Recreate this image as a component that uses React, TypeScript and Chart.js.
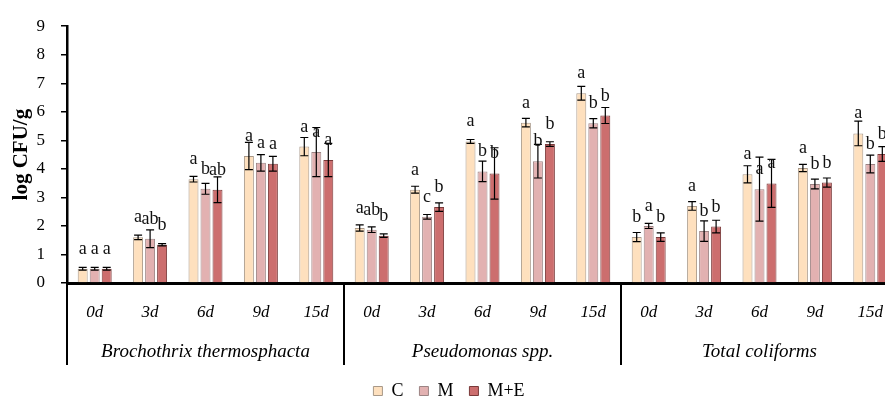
import React, { useEffect, useRef } from 'react';
import { Chart, registerables } from 'chart.js';

Chart.register(...registerables);

const days = ['0d', '3d', '6d', '9d', '15d'];
const groups = ['Brochothrix thermosphacta', 'Pseudomonas spp.', 'Total coliforms'];
const categories = [...days, ...days, ...days];

const seriesNames = ['C', 'M', 'M+E'];

const valuesC = [0.5, 1.6, 3.64, 4.45, 4.78, 1.93, 3.27, 4.96, 5.62, 6.65, 1.61, 2.7, 3.81, 4.03, 5.24];
const valuesM = [0.5, 1.55, 3.3, 4.21, 4.59, 1.87, 2.32, 3.91, 4.27, 5.6, 2.0, 1.82, 3.29, 3.47, 4.17];
const valuesME = [0.5, 1.34, 3.27, 4.18, 4.31, 1.66, 2.66, 3.84, 4.87, 5.87, 1.61, 1.98, 3.49, 3.52, 4.52];

const errC = [0.05, 0.08, 0.1, 0.48, 0.32, 0.11, 0.12, 0.07, 0.15, 0.24, 0.16, 0.15, 0.3, 0.13, 0.43];
const errM = [0.05, 0.31, 0.19, 0.29, 0.86, 0.1, 0.08, 0.36, 0.59, 0.16, 0.09, 0.36, 1.12, 0.17, 0.31];
const errME = [0.05, 0.04, 0.45, 0.26, 0.58, 0.06, 0.15, 0.9, 0.08, 0.28, 0.15, 0.22, 0.84, 0.16, 0.26];

const sigC = ['a', 'a', 'a', 'a', 'a', 'a', 'a', 'a', 'a', 'a', 'b', 'a', 'a', 'a', 'a'];
const sigM = ['a', 'ab', 'b', 'a', 'a', 'ab', 'c', 'b', 'b', 'b', 'a', 'b', 'a', 'b', 'b'];
const sigME = ['a', 'b', 'ab', 'a', 'a', 'b', 'b', 'b', 'b', 'b', 'b', 'b', 'a', 'b', 'b'];

const yTicks = [0, 1, 2, 3, 4, 5, 6, 7, 8, 9];

const errors = [errC, errM, errME];
const letters = [sigC, sigM, sigME];

const SERIF = '"Liberation Serif", "DejaVu Serif", serif';

const extrasPlugin = {
  id: 'extras',
  afterDatasetsDraw(chart: any) {
    const ctx = chart.ctx;
    const yScale = chart.scales.y;
    ctx.save();
    // error bars
    ctx.strokeStyle = '#000';
    ctx.lineWidth = 1.2;
    chart.data.datasets.forEach((ds: any, i: number) => {
      const meta = chart.getDatasetMeta(i);
      meta.data.forEach((el: any, j: number) => {
        const v = ds.data[j];
        const e = errors[i][j];
        const yt = yScale.getPixelForValue(v + e);
        const yb = yScale.getPixelForValue(v - e);
        ctx.beginPath();
        ctx.moveTo(el.x, yt);
        ctx.lineTo(el.x, yb);
        ctx.moveTo(el.x - 4, yt);
        ctx.lineTo(el.x + 4, yt);
        ctx.moveTo(el.x - 4, yb);
        ctx.lineTo(el.x + 4, yb);
        ctx.stroke();
      });
    });
    // letters
    ctx.fillStyle = '#111';
    ctx.font = `18px ${SERIF}`;
    ctx.textAlign = 'center';
    ctx.textBaseline = 'alphabetic';
    chart.data.datasets.forEach((ds: any, i: number) => {
      const meta = chart.getDatasetMeta(i);
      meta.data.forEach((el: any, j: number) => {
        ctx.fillText(letters[i][j], el.x, el.y - 15);
      });
    });
    ctx.restore();
  },
  afterDraw(chart: any) {
    const ctx = chart.ctx;
    const xScale = chart.scales.x;
    const area = chart.chartArea;
    const n = days.length;
    ctx.save();
    ctx.strokeStyle = '#000';
    ctx.lineWidth = 2;
    const bounds: number[] = [area.left];
    for (let g = 1; g < groups.length; g++) {
      const a = xScale.getPixelForValue(g * n - 1);
      const b = xScale.getPixelForValue(g * n);
      bounds.push((a + b) / 2);
    }
    bounds.push(area.right);
    bounds.forEach((x) => {
      ctx.beginPath();
      ctx.moveTo(x, area.bottom);
      ctx.lineTo(x, area.bottom + 82);
      ctx.stroke();
    });
    ctx.fillStyle = '#000';
    ctx.font = `italic 19px ${SERIF}`;
    ctx.textAlign = 'center';
    ctx.textBaseline = 'middle';
    groups.forEach((g, gi) => {
      const x0 = xScale.getPixelForValue(gi * n);
      const x1 = xScale.getPixelForValue(gi * n + n - 1);
      ctx.fillText(g, (x0 + x1) / 2, area.bottom + 69);
    });
    ctx.restore();
  },
};

export default function App() {
  const ref = useRef<HTMLCanvasElement>(null);
  useEffect(() => {
    const chart = new Chart(ref.current as HTMLCanvasElement, {
      type: 'bar',
      data: {
        labels: categories,
        datasets: [
          {
            label: seriesNames[0],
            data: valuesC,
            backgroundColor: '#FEE0BE',
            borderColor: '#A89888',
            borderWidth: 1,
          },
          {
            label: seriesNames[1],
            data: valuesM,
            backgroundColor: '#E2B1B1',
            borderColor: '#9C8484',
            borderWidth: 1,
          },
          {
            label: seriesNames[2],
            data: valuesME,
            backgroundColor: '#CC6E6E',
            borderColor: '#7A3A3A',
            borderWidth: 1,
          },
        ],
      },
      options: {
        responsive: false,
        animation: false,
        devicePixelRatio: 1,
        layout: { padding: { top: 25, left: 0, right: 12, bottom: 0 } },
        datasets: {
          bar: { categoryPercentage: 0.65, barPercentage: 0.83 },
        },
        plugins: {
          legend: {
            position: 'bottom',
            labels: {
              boxWidth: 9,
              boxHeight: 9,
              padding: 16,
              color: '#000',
              font: { family: SERIF, size: 18 },
            },
          },
          tooltip: { enabled: false },
        },
        scales: {
          x: {
            type: 'category',
            offset: true,
            grid: { display: false, drawTicks: false },
            border: { display: true, color: '#000', width: 3 },
            ticks: {
              color: '#000',
              font: { family: SERIF, size: 17, style: 'italic' },
              padding: 19,
              maxRotation: 0,
              autoSkip: false,
            },
            afterFit: (s: any) => {
              s.height = 83;
            },
          },
          y: {
            min: 0,
            max: 9,
            afterBuildTicks: (s: any) => {
              s.ticks = yTicks.map((v) => ({ value: v }));
            },
            grid: { drawOnChartArea: false, drawTicks: true, tickLength: 6, color: '#000', lineWidth: 1.5 },
            border: { display: true, color: '#000', width: 2.5 },
            ticks: {
              color: '#000',
              font: { family: SERIF, size: 17 },
              padding: 16,
            },
            title: {
              display: true,
              text: 'log CFU/g',
              color: '#000',
              font: { family: SERIF, size: 21, weight: 'bold' },
              padding: { top: 9, bottom: 0 },
            },
            afterFit: (s: any) => {
              s.width = 67;
            },
          },
        },
      },
      plugins: [extrasPlugin],
    } as any);
    return () => chart.destroy();
  }, []);
  return (
    <div
      style={{
        position: 'fixed',
        left: 0,
        top: 0,
        width: 885,
        height: 403,
        overflow: 'hidden',
        background: '#fff',
      }}
    >
      <canvas ref={ref} width={910} height={410} style={{ display: 'block', width: 910, height: 410 }} />
    </div>
  );
}
